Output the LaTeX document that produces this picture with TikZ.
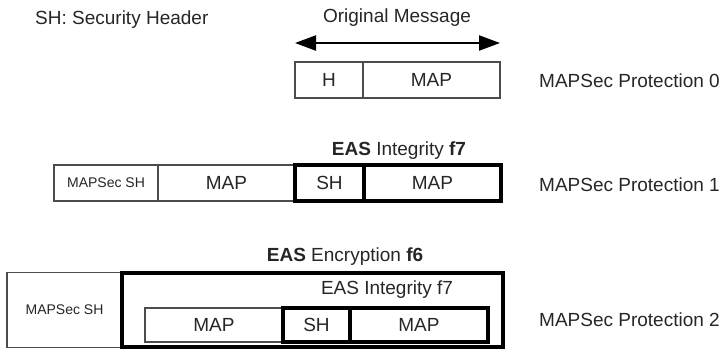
\documentclass[tikz,border=0pt]{standalone}
\usepackage{fontspec}
\setmainfont{Liberation Sans}
\usetikzlibrary{arrows.meta}
\begin{document}
\begin{tikzpicture}[x=1pt,y=-1pt,
  txt/.style={font=\fontsize{19}{22}\selectfont, inner sep=0pt, text=black!85},
  smalltxt/.style={font=\fontsize{14}{16}\selectfont, inner sep=0pt, text=black!85},
  thinbox/.style={draw=black!70, line width=1.6pt, inner sep=0pt, outer sep=0pt, fill=white},
  thickbox/.style={draw=black, line width=3.6pt, inner sep=0pt, outer sep=0pt},
  bigarrow/.style={draw=black, line width=2.2pt, {Triangle[length=21pt,width=15pt]}-{Triangle[length=21pt,width=15pt]}}
]
\useasboundingbox (0,0) rectangle (727,349);

% legend and title
\node[txt, anchor=west] (sechdr) at (35,20) {SH: Security Header};
\node[txt] (orig) at (397,18) {Original Message};
\coordinate (al) at (295,43);
\coordinate (ar) at (500,43);
\draw[bigarrow] (al) -- (ar);

% Protection 0
\node[thinbox, txt, minimum width=68pt, minimum height=36pt] (h0) at (329,80) {H};
\node[thinbox, txt, minimum width=137pt, minimum height=36pt] (map0) at (431.5,80) {MAP};
\node[txt, anchor=west] (p0) at (539,81) {MAPSec Protection 0};

% Protection 1
\node[txt] (int1) at (399,151) {\textbf{EAS} Integrity \textbf{f7}};
\node[thinbox, smalltxt, minimum width=104pt, minimum height=36pt] (msh1) at (106,183) {MAPSec SH};
\node[thinbox, txt, minimum width=137pt, minimum height=36pt] (map1a) at (226.5,183) {MAP};
\node[thickbox, txt, minimum width=69pt, minimum height=36pt] (sh1) at (329.5,183) {SH};
\node[thickbox, txt, minimum width=137pt, minimum height=36pt] (map1b) at (432.5,183) {MAP};
\node[txt, anchor=west] (p1) at (539,185) {MAPSec Protection 1};

% Protection 2
\node[txt] (enc2) at (345,257) {\textbf{EAS} Encryption \textbf{f6}};
\node[thinbox, smalltxt, minimum width=115pt, minimum height=75pt] (msh2) at (64.5,310) {MAPSec SH};
\node[thickbox, minimum width=381pt, minimum height=74pt] (enc) at (312.5,310) {};
\node[txt] (int2) at (387,290) {EAS Integrity f7};
\node[thinbox, txt, minimum width=138pt, minimum height=34pt] (map2a) at (214,325) {MAP};
\node[thickbox, txt, minimum width=67pt, minimum height=34pt] (sh2) at (316.5,325) {SH};
\node[thickbox, txt, minimum width=138pt, minimum height=34pt] (map2b) at (419,325) {MAP};
\node[txt, anchor=west] (p2) at (539,320) {MAPSec Protection 2};
\end{tikzpicture}
\end{document}
